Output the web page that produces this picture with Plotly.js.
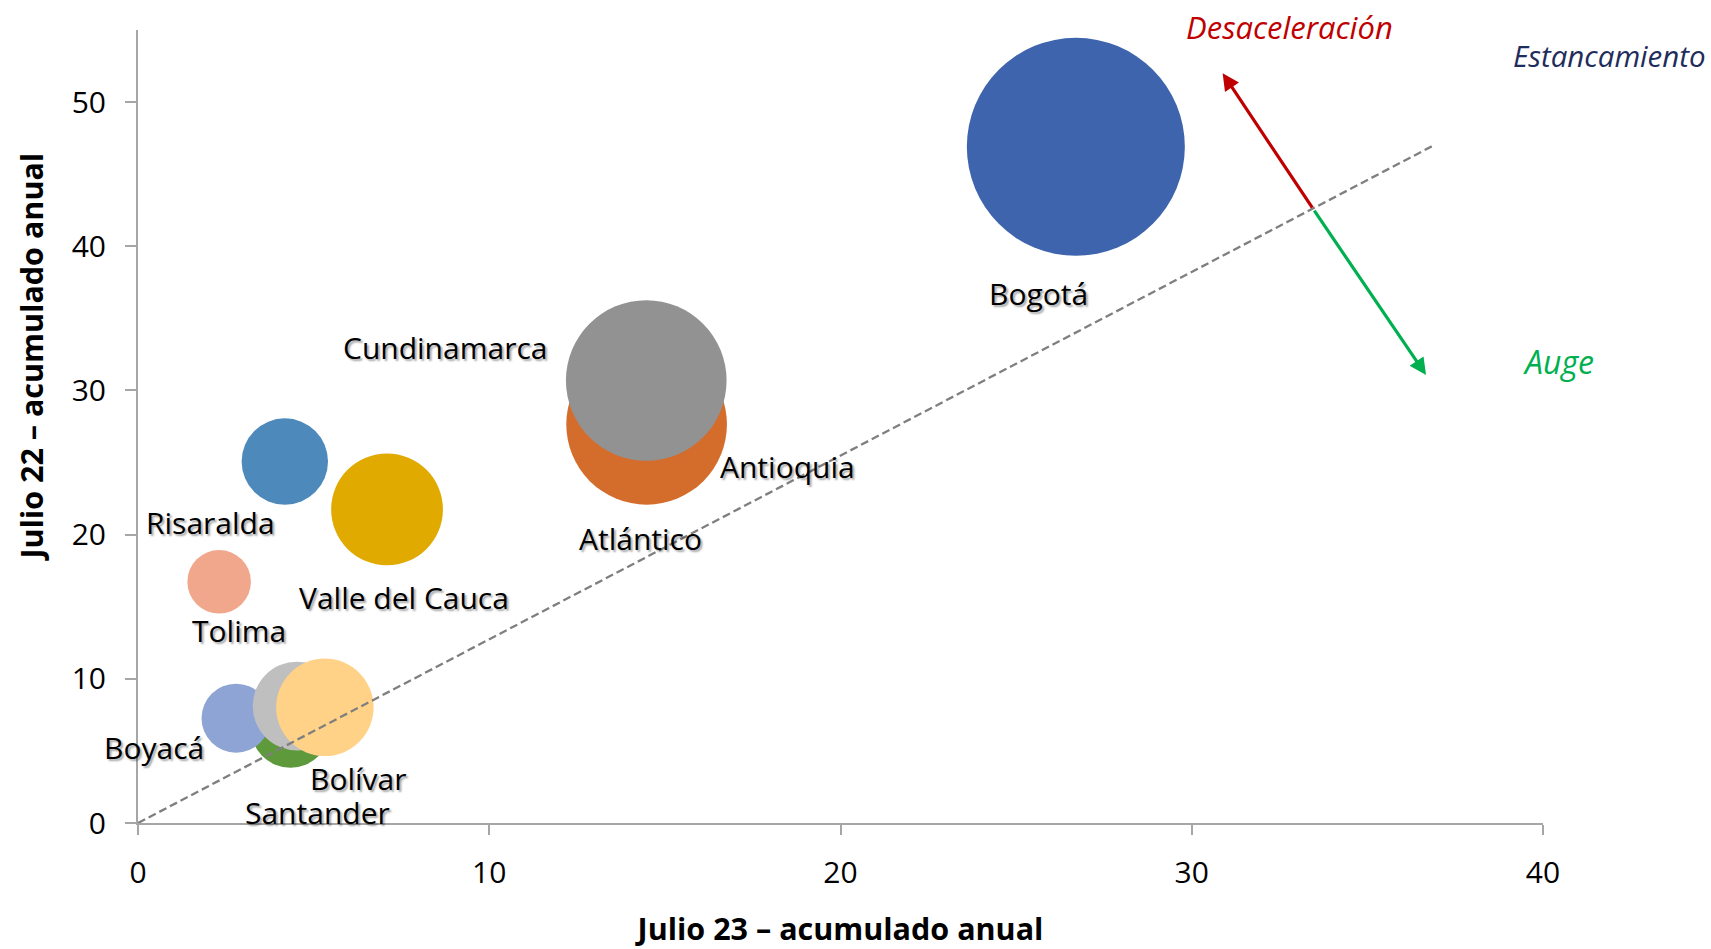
<!DOCTYPE html>
<html>
<head>
<meta charset="utf-8">
<script src="https://cdn.plot.ly/plotly-3.0.1.min.js"></script>
<style>
  html, body { margin: 0; padding: 0; background: #ffffff; }
  #chart { width: 1711px; height: 949px; }
</style>
</head>
<body>
<div id="chart"></div>
<script>
// ---- Data ----
const departments = ['Bogotá', 'Antioquia', 'Cundinamarca', 'Valle del Cauca', 'Risaralda',
                     'Santander', 'Boyacá', 'Tolima', 'Atlántico', 'Bolívar'];
const julio23 = [26.70, 14.48, 14.47, 7.09, 4.18, 4.34, 2.79, 2.31, 4.53, 5.32];
const julio22 = [46.90, 27.65, 30.69, 21.75, 25.07, 6.60, 7.27, 16.73, 8.11, 8.02];
const bubbleSize = [100, 54.3, 54.3, 26.3, 15.7, 13.4, 10.0, 8.5, 16.6, 20.0];

const xTickVals = [0, 10, 20, 30, 40];
const yTickVals = [0, 10, 20, 30, 40, 50];

const diagonalX = [0, 36.92];
const diagonalY = [0, 47.04];

const arrowOrigin = [33.46, 42.57];
const arrowUpTip = [30.88, 52.0];
const arrowDownTip = [36.67, 31.07];

const xTitle = 'Julio 23 – acumulado anual';
const yTitle = 'Julio 22 – acumulado anual';
const quadrantTexts = ['Desaceleración', 'Estancamiento', 'Auge'];

// ---- Styles ----
const bubbleColors = ['#3D64AC', '#D46D2C', '#929292', '#E1AA00', '#4E89BC',
                      '#5E9A3C', '#8EA4D5', '#F1A78B', '#BFBFBF', '#FFD287'];
// label offsets from bubble centre, in pixels [dx, dy(down)]
const labelShift = [[-37, 147], [141, 42], [-201, -33], [17, 88], [-74, 61],
                    [27, 85], [-82, 29], [20, 49], [343, -168], [34, 71]];
const maxDiameter = 218;
const baseFont = 'Open Sans, Noto Sans, Roboto, sans-serif';

const bubbles = {
  type: 'scatter',
  mode: 'markers',
  x: julio23,
  y: julio22,
  text: departments,
  hoverinfo: 'text',
  marker: {
    size: bubbleSize,
    sizemode: 'area',
    sizeref: 2 * Math.max(...bubbleSize) / (maxDiameter * maxDiameter),
    color: bubbleColors,
    opacity: 1,
    line: { width: 0 }
  },
  cliponaxis: false,
  showlegend: false
};

const diagonal = {
  type: 'scatter',
  mode: 'lines',
  x: diagonalX,
  y: diagonalY,
  line: { color: '#7F7F7F', width: 2.3, dash: '8px,4px' },
  hoverinfo: 'skip',
  showlegend: false
};

const labelAnnotations = departments.map((name, i) => ({
  x: julio23[i], y: julio22[i], xref: 'x', yref: 'y',
  text: name, showarrow: false,
  xshift: labelShift[i][0], yshift: -labelShift[i][1],
  xanchor: 'center', yanchor: 'middle',
  font: { family: baseFont, size: 30, color: '#000000' }
}));

const arrowAnnotations = [
  { tip: arrowUpTip, color: '#C00000' },
  { tip: arrowDownTip, color: '#00B050' }
].map(a => ({
  x: a.tip[0], y: a.tip[1], xref: 'x', yref: 'y',
  ax: arrowOrigin[0], ay: arrowOrigin[1], axref: 'x', ayref: 'y',
  text: '', showarrow: true, arrowhead: 2, arrowsize: 1.05, arrowwidth: 3.2,
  arrowcolor: a.color, standoff: 0, startstandoff: 0,
  font: { size: 1 }
}));

const textAnnotations = [
  { text: quadrantTexts[0], x: 0.8199, y: 1.0034, color: '#C00000', size: 31 },
  { text: quadrantTexts[1], x: 1.0473, y: 0.9676, color: '#1F2D5C', size: 29.5 },
  { text: quadrantTexts[2], x: 1.0112, y: 0.5825, color: '#00B050', size: 32 }
].map(t => ({
  x: t.x, y: t.y, xref: 'paper', yref: 'paper', showarrow: false,
  text: '<i>' + t.text + '</i>', xanchor: 'center', yanchor: 'middle',
  font: { family: baseFont, size: t.size, color: t.color }
}));

const yTitleAnnotation = {
  x: -0.0768, y: 0.587, xref: 'paper', yref: 'paper', showarrow: false,
  text: '<b>' + yTitle + '</b>', textangle: -90,
  xanchor: 'center', yanchor: 'middle',
  font: { family: baseFont, size: 30.5, color: '#000000' }
};

const layout = {
  width: 1711,
  height: 949,
  paper_bgcolor: '#ffffff',
  plot_bgcolor: '#ffffff',
  margin: { l: 137.5, r: 168, t: 30, b: 126.2, pad: 0 },
  showlegend: false,
  hovermode: 'closest',
  xaxis: {
    range: [0, 40],
    tickvals: xTickVals,
    ticktext: xTickVals.map(String),
    showgrid: false,
    zeroline: false,
    showline: true,
    linecolor: '#A6A6A6',
    linewidth: 2,
    ticks: 'outside',
    ticklen: 10,
    tickwidth: 2,
    tickcolor: '#A6A6A6',
    ticklabelstandoff: 12,
    tickfont: { family: baseFont, size: 30, color: '#000000' },
    title: {
      text: '<b>' + xTitle + '</b>',
      font: { family: baseFont, size: 30.5, color: '#000000' },
      standoff: 34
    }
  },
  yaxis: {
    range: [0, 55],
    tickvals: yTickVals,
    ticktext: yTickVals.map(String),
    showgrid: false,
    zeroline: false,
    showline: true,
    linecolor: '#A6A6A6',
    linewidth: 2,
    ticks: 'outside',
    ticklen: 11,
    tickwidth: 2,
    tickcolor: '#A6A6A6',
    ticklabelstandoff: 13,
    tickfont: { family: baseFont, size: 30, color: '#000000' }
  },
  annotations: labelAnnotations.concat(arrowAnnotations, textAnnotations, [yTitleAnnotation])
};

Plotly.newPlot('chart', [bubbles, diagonal], layout, { displayModeBar: false, responsive: false })
  .then(gd => {
    gd.querySelectorAll('.annotation').forEach(el => {
      const idx = Number(el.getAttribute('data-index'));
      if (idx < departments.length) {
        const t = el.querySelector('text');
        if (t) t.style.textShadow = '2px 2px 2px rgba(0,0,0,0.35)';
      }
    });
  });
</script>
</body>
</html>
